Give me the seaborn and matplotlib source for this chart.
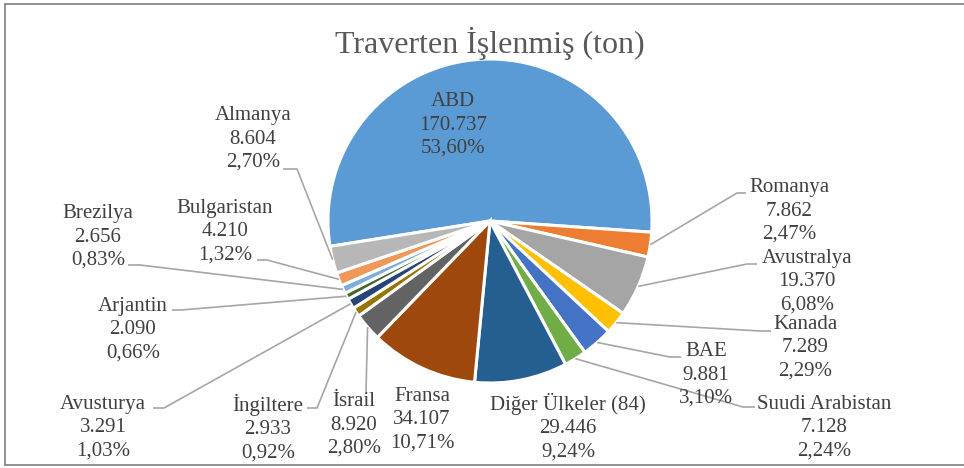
import numpy as np
import matplotlib
matplotlib.use("Agg")
import matplotlib.pyplot as plt
from matplotlib.lines import Line2D
import seaborn as sns

# ---------------------------------------------------------------------------
# Data (clockwise from ABD)
# ---------------------------------------------------------------------------
countries = [
    "ABD", "Romanya", "Avustralya", "Kanada", "BAE", "Suudi Arabistan",
    "Diğer Ülkeler (84)", "Fransa", "İsrail", "İngiltere", "Avusturya",
    "Arjantin", "Brezilya", "Bulgaristan", "Almanya",
]
tonnes = [
    170737, 7862, 19370, 7289, 9881, 7128,
    29446, 34107, 8920, 2933, 3291,
    2090, 2656, 4210, 8604,
]
colors = [
    "#5B9BD5", "#ED7D31", "#A5A5A5", "#FFC000", "#4472C4", "#70AD47",
    "#255E91", "#9E480E", "#636363", "#997300", "#264478",
    "#43682B", "#7CAFDD", "#F1975A", "#B7B7B7",
]
title = "Traverten İşlenmiş (ton)"

# ---------------------------------------------------------------------------
# Layout (pixels, measured from the top-left corner of the 964x468 canvas)
# ---------------------------------------------------------------------------
W, H = 964, 468
CENTER = (490, 221)
RADIUS = 162

label_pos = {
    "ABD": (453, 125), "Romanya": (789, 211), "Avustralya": (807, 282),
    "Kanada": (805, 348), "BAE": (706, 375), "Suudi Arabistan": (824, 428),
    "Diğer Ülkeler (84)": (568, 427), "Fransa": (422, 420),
    "İsrail": (354, 425), "İngiltere": (268, 428), "Avusturya": (103, 428),
    "Arjantin": (133, 330), "Brezilya": (98, 237), "Bulgaristan": (225, 232),
    "Almanya": (253, 139),
}
# leader line: (start next to text, elbow) -> then straight to the wedge edge
leaders = {
    "Romanya": ((746, 193), (737, 193)),
    "Avustralya": ((757, 264), (747, 264)),
    "Kanada": ((771, 331), (760, 331)),
    "BAE": ((681, 357), (670, 357)),
    "Suudi Arabistan": ((755, 407), (743, 407)),
    "İsrail": ((366, 392), (366, 392)),
    "İngiltere": ((307, 408), (317, 408)),
    "Avusturya": ((153, 408), (164, 408)),
    "Arjantin": ((172, 310), (181, 310)),
    "Brezilya": ((128, 265), (140, 265)),
    "Bulgaristan": ((257, 260), (267, 260)),
    "Almanya": ((283, 169), (297, 169)),
}

TEXT_COLOR = "#404040"
LINE_COLOR = "#A6A6A6"
SERIF = ["Liberation Serif", "DejaVu Serif"]


def px(x, y):
    """Pixel coords (y down) -> data coords (y up)."""
    return x, H - y


sns.set_theme(style="white")
plt.rcParams["font.family"] = SERIF

fig = plt.figure(figsize=(W / 100, H / 100), dpi=100)
ax = fig.add_axes([0, 0, 1, 1])

wedges, _ = ax.pie(
    tonnes,
    colors=colors,
    startangle=189,
    counterclock=False,
    center=px(*CENTER),
    radius=RADIUS,
    wedgeprops=dict(edgecolor="white", linewidth=2.2),
)
ax.set_xlim(0, W)
ax.set_ylim(0, H)
ax.set_aspect("equal")
ax.axis("off")

total = sum(tonnes)
cx, cy = px(*CENTER)
for name, value, wedge in zip(countries, tonnes, wedges):
    pct = f"{value / total * 100:.2f}".replace(".", ",") + "%"
    val = f"{value:,}".replace(",", ".")
    tx, ty = px(*label_pos[name])
    ax.text(tx, ty, f"{name}\n{val}\n{pct}", ha="center", va="center",
            fontsize=15, color=TEXT_COLOR, linespacing=1.32)

    if name in leaders:
        (sx, sy), (ex, ey) = leaders[name]
        mid = np.deg2rad((wedge.theta1 + wedge.theta2) / 2)
        ax_, ay_ = cx + RADIUS * np.cos(mid), cy + RADIUS * np.sin(mid)
        xs = [px(sx, sy)[0], px(ex, ey)[0], ax_]
        ys = [px(sx, sy)[1], px(ex, ey)[1], ay_]
        ax.plot(xs, ys, color=LINE_COLOR, linewidth=1.2, solid_capstyle="butt")

tx, ty = px(490, 44)
ax.text(tx, ty, title, ha="center", va="center", fontsize=23, color="#595959")

# chart frame (top, left, bottom)
for (x0, y0), (x1, y1) in [((5, 4), (W, 4)), ((5, 4), (5, 465)), ((5, 465), (W, 465))]:
    fig.add_artist(Line2D([x0 / W, x1 / W], [1 - y0 / H, 1 - y1 / H],
                          color="#7F7F7F", linewidth=1.2))

fig.savefig("out.png", dpi=100)
